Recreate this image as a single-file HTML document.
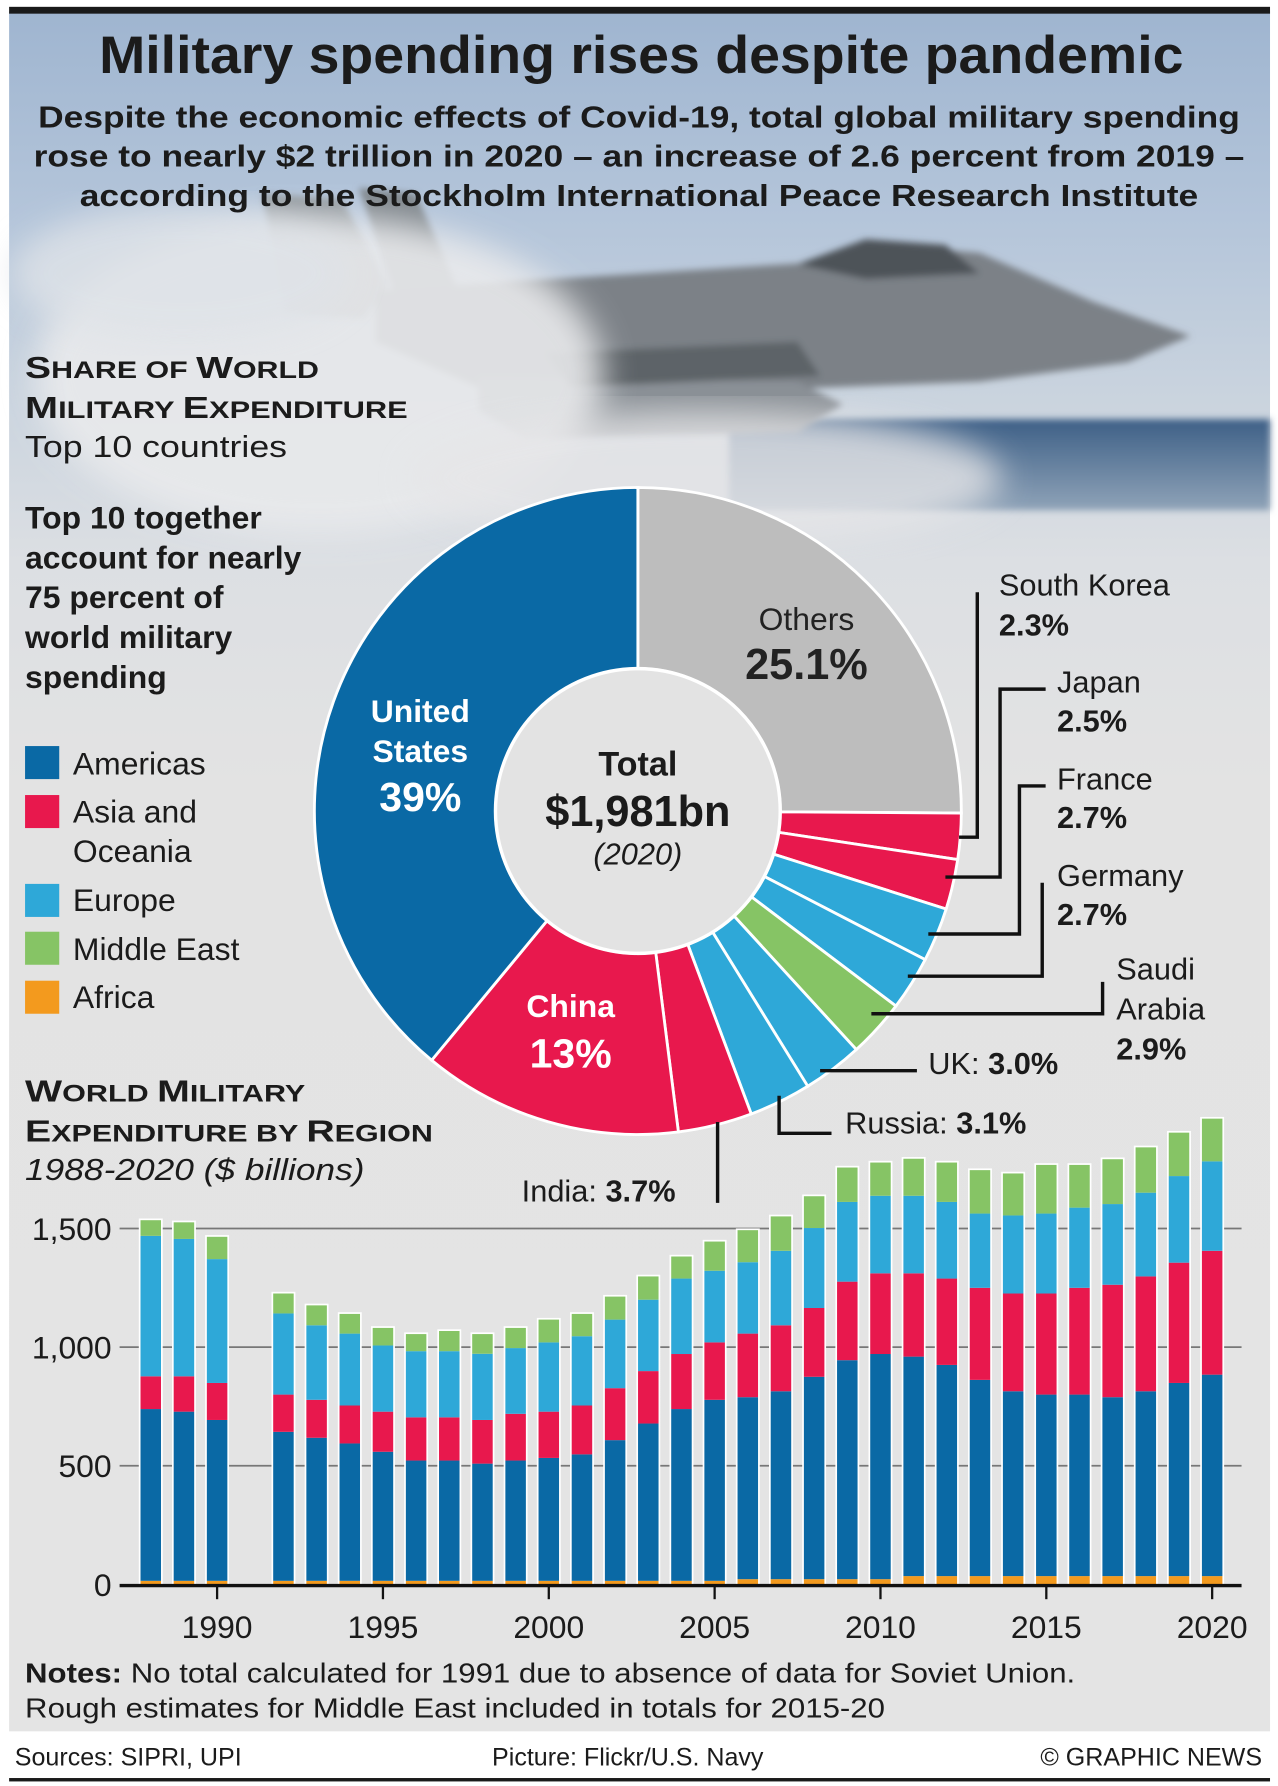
<!DOCTYPE html>
<html><head><meta charset="utf-8"><style>
html,body{margin:0;padding:0;background:#fff;}
svg{display:block;font-family:"Liberation Sans",sans-serif;}
</style></head><body>
<svg id="root" width="1278" height="1786" viewBox="0 0 1122 1568" xmlns="http://www.w3.org/2000/svg">
<defs>
<linearGradient id="bg" x1="0" y1="0" x2="0" y2="1">
<stop offset="0" stop-color="#9fb5d0"/><stop offset="0.12" stop-color="#b4c5da"/><stop offset="0.22" stop-color="#c9d3de"/><stop offset="0.32" stop-color="#dcdfe3"/><stop offset="0.45" stop-color="#e3e3e3"/><stop offset="1" stop-color="#e4e4e4"/>
</linearGradient>
<linearGradient id="sea" x1="0" y1="0" x2="0" y2="1"><stop offset="0" stop-color="#3d5f86"/><stop offset="1" stop-color="#8fa3b8"/></linearGradient>
<filter id="blur"><feGaussianBlur stdDeviation="14"/></filter>
<filter id="blur2"><feGaussianBlur stdDeviation="3"/></filter>
</defs>
<rect x="0" y="0" width="1122" height="1568" fill="#fff"/>
<rect x="8" y="10" width="1107" height="1510" fill="url(#bg)"/>
<rect x="640" y="368" width="475" height="80" fill="url(#sea)" filter="url(#blur2)"/>
<g filter="url(#blur2)">
<polygon points="230,170 300,175 340,250 320,280 250,275" fill="#8d949a"/>
<polygon points="315,165 365,170 400,250 350,270" fill="#7f868c"/>
<polygon points="330,255 720,230 780,215 860,222 960,265 1045,295 990,318 860,335 600,345 420,340 330,300" fill="#7b8187"/>
<polygon points="700,232 760,210 830,215 860,240 760,245" fill="#4d5358"/>
<polygon points="420,330 700,335 740,355 700,380 460,385 420,360" fill="#8a9096"/>
<polygon points="480,310 700,300 720,330 500,340" fill="#5d6368"/>
</g>
<ellipse cx="280" cy="330" rx="250" ry="140" fill="#e9eaec" filter="url(#blur)" opacity="0.9"/>
<ellipse cx="620" cy="420" rx="260" ry="60" fill="#e6e6e8" filter="url(#blur)" opacity="0.8"/>
<ellipse cx="160" cy="240" rx="150" ry="60" fill="#dfe3e8" filter="url(#blur)" opacity="0.8"/>
<rect x="8" y="6" width="1107" height="6" fill="#1a1a1a"/>

<text x="563" y="64" text-anchor="middle" font-size="46" font-weight="bold" fill="#1b1b1b" textLength="952" lengthAdjust="spacingAndGlyphs">Military spending rises despite pandemic</text>
<g font-size="27" font-weight="bold" fill="#1b1b1b" text-anchor="middle">
<text x="561" y="112" textLength="1055" lengthAdjust="spacingAndGlyphs">Despite the economic effects of Covid-19, total global military spending</text>
<text x="561" y="146" textLength="1063" lengthAdjust="spacingAndGlyphs">rose to nearly $2 trillion in 2020 – an increase of 2.6 percent from 2019 –</text>
<text x="561" y="181" textLength="982" lengthAdjust="spacingAndGlyphs">according to the Stockholm International Peace Research Institute</text>
</g>

<g fill="#1b1b1b" font-weight="bold">
<text x="22" y="332" font-size="27" textLength="258" lengthAdjust="spacingAndGlyphs">S<tspan font-size="21">HARE OF </tspan>W<tspan font-size="21">ORLD</tspan></text>
<text x="22" y="367" font-size="27" textLength="336" lengthAdjust="spacingAndGlyphs">M<tspan font-size="21">ILITARY </tspan>E<tspan font-size="21">XPENDITURE</tspan></text>
<text x="22" y="401" font-size="27" font-weight="normal" textLength="230" lengthAdjust="spacingAndGlyphs">Top 10 countries</text>
</g>
<g fill="#1b1b1b" font-weight="bold" font-size="28">
<text x="22" y="464">Top 10 together</text>
<text x="22" y="499">account for nearly</text>
<text x="22" y="534">75 percent of</text>
<text x="22" y="569">world military</text>
<text x="22" y="604">spending</text>
</g>
<g font-size="28" fill="#1b1b1b">
<rect x="22" y="655" width="30" height="29" fill="#0a69a5"/><text x="64" y="680">Americas</text>
<rect x="22" y="698" width="30" height="29" fill="#e8184d"/><text x="64" y="722">Asia and</text><text x="64" y="757">Oceania</text>
<rect x="22" y="776" width="30" height="29" fill="#2ea8d8"/><text x="64" y="800">Europe</text>
<rect x="22" y="818" width="30" height="29" fill="#86c465"/><text x="64" y="843">Middle East</text>
<rect x="22" y="861" width="30" height="29" fill="#f39a1e"/><text x="64" y="885">Africa</text>
</g>

<g id="donut"></g>
<g text-anchor="middle">
<text x="708" y="553" font-size="28" fill="#222">Others</text>
<text x="708" y="596" font-size="38" font-weight="bold" fill="#222">25.1%</text>
<text x="369" y="634" font-size="28" font-weight="bold" fill="#fff">United</text>
<text x="369" y="669" font-size="28" font-weight="bold" fill="#fff">States</text>
<text x="369" y="712" font-size="36" font-weight="bold" fill="#fff">39%</text>
<text x="501" y="893" font-size="28" font-weight="bold" fill="#fff">China</text>
<text x="501" y="937" font-size="36" font-weight="bold" fill="#fff">13%</text>
<text x="560" y="681" font-size="30" font-weight="bold" fill="#1b1b1b">Total</text>
<text x="560" y="725" font-size="38" font-weight="bold" fill="#1b1b1b">$1,981bn</text>
<text x="560" y="759" font-size="27" font-style="italic" fill="#1b1b1b">(2020)</text>
</g>
<g fill="none" stroke="#111" stroke-width="3">
<polyline points="842,735 858,735 858,520"/>
<polyline points="830,770 878,770 878,605 918,605"/>
<polyline points="815,820 895,820 895,690 918,690"/>
<polyline points="797,857 915,857 915,775"/>
<polyline points="765,890 968,890 968,862"/>
<polyline points="720,940 805,940"/>
<polyline points="684,962 684,995 730,995"/>
<polyline points="630,985 630,1056"/>
</g>
<g font-size="27" fill="#1b1b1b">
<text x="877" y="523">South Korea</text><text x="877" y="558" font-weight="bold">2.3%</text>
<text x="928" y="608">Japan</text><text x="928" y="642" font-weight="bold">2.5%</text>
<text x="928" y="693">France</text><text x="928" y="727" font-weight="bold">2.7%</text>
<text x="928" y="778">Germany</text><text x="928" y="812" font-weight="bold">2.7%</text>
<text x="980" y="860">Saudi</text><text x="980" y="895">Arabia</text><text x="980" y="930" font-weight="bold">2.9%</text>
<text x="815" y="943">UK: <tspan font-weight="bold">3.0%</tspan></text>
<text x="742" y="995">Russia: <tspan font-weight="bold">3.1%</tspan></text>
<text x="458" y="1055">India: <tspan font-weight="bold">3.7%</tspan></text>
</g>

<g fill="#1b1b1b" font-weight="bold">
<text x="22" y="967" font-size="27" textLength="246" lengthAdjust="spacingAndGlyphs">W<tspan font-size="21">ORLD </tspan>M<tspan font-size="21">ILITARY</tspan></text>
<text x="22" y="1002" font-size="27" textLength="358" lengthAdjust="spacingAndGlyphs">E<tspan font-size="21">XPENDITURE BY </tspan>R<tspan font-size="21">EGION</tspan></text>
<text x="22" y="1036" font-size="27" font-weight="normal" font-style="italic" textLength="298" lengthAdjust="spacingAndGlyphs">1988-2020 ($ billions)</text>
</g>
<g id="bars"></g>

<g font-size="24" fill="#1b1b1b">
<text x="22" y="1477" textLength="922" lengthAdjust="spacingAndGlyphs"><tspan font-weight="bold">Notes:</tspan> No total calculated for 1991 due to absence of data for Soviet Union.</text>
<text x="22" y="1508" textLength="755" lengthAdjust="spacingAndGlyphs">Rough estimates for Middle East included in totals for 2015-20</text>
</g>
<g font-size="22" fill="#1b1b1b">
<text x="13" y="1550">Sources: SIPRI, UPI</text>
<text x="432" y="1550">Picture: Flickr/U.S. Navy</text>
<text x="1108" y="1550" text-anchor="end">© GRAPHIC NEWS</text>
</g>
<rect x="8" y="1561" width="1107" height="3" fill="#1a1a1a"/>

<script>
const sliceNames = ["Others","South Korea","Japan","France","Germany","Saudi Arabia","UK","Russia","India","China","United States"];
const sliceShares = [25.1,2.3,2.5,2.7,2.7,2.9,3.0,3.1,3.7,13,39];
const sliceRegions = ["other","asia","asia","europe","europe","mideast","europe","europe","asia","asia","americas"];

const years = [1988,1989,1990,1991,1992,1993,1994,1995,1996,1997,1998,1999,2000,2001,2002,2003,2004,2005,2006,2007,2008,2009,2010,2011,2012,2013,2014,2015,2016,2017,2018,2019,2020];
const africa   = [15,15,15,null,15,15,15,15,15,15,15,15,15,15,15,15,15,15,22,22,22,22,22,35,35,35,35,35,35,35,35,35,35];
const americas = [724,713,678,null,628,603,579,544,507,507,494,507,518,533,593,663,724,763,767,792,853,923,949,925,890,827,779,765,765,754,779,814,849];
const asia     = [138,149,156,null,157,160,160,169,182,182,184,197,195,206,219,221,232,242,268,278,290,331,340,351,364,388,412,426,450,474,484,507,522];
const europe   = [592,579,522,null,342,314,303,279,279,279,279,277,292,292,289,301,318,302,301,314,337,336,327,327,323,313,329,337,338,340,353,365,377];
const mideast  = [66,70,94,null,84,84,83,74,72,85,83,85,96,94,97,98,93,123,135,145,134,145,140,156,166,183,177,205,180,189,191,183,180];
const yTicks = [0,500,1000,1500];
const yTickLabels = ["0","500","1,000","1,500"];
const xTicks = [1990,1995,2000,2005,2010,2015,2020];

const NS = "http://www.w3.org/2000/svg";
const colors = {americas:"#0a69a5",asia:"#e8184d",europe:"#2ea8d8",mideast:"#86c465",africa:"#f39a1e",other:"#bdbdbd"};

// donut
const cx = 560, cy = 712, R = 284, r = 125;
const donut = document.getElementById("donut");
const angleOf = p => p / 100 * 2 * Math.PI;
function pt(rad, a){ return [cx + rad*Math.sin(a), cy - rad*Math.cos(a)]; }
let acc = 0;
sliceShares.forEach((s, i) => {
  const a0 = angleOf(acc), a1 = angleOf(acc + s); acc += s;
  const large = (a1 - a0) > Math.PI ? 1 : 0;
  const p0 = pt(R,a0), p1 = pt(R,a1), q1 = pt(r,a1), q0 = pt(r,a0);
  const path = document.createElementNS(NS, "path");
  path.setAttribute("d", `M${p0[0]},${p0[1]} A${R},${R} 0 ${large} 1 ${p1[0]},${p1[1]} L${q1[0]},${q1[1]} A${r},${r} 0 ${large} 0 ${q0[0]},${q0[1]} Z`);
  path.setAttribute("fill", colors[sliceRegions[i]]);
  path.setAttribute("stroke", "#fff");
  path.setAttribute("stroke-width", "2.5");
  
  
  donut.appendChild(path);
});
const hole = document.createElementNS(NS, "circle");
hole.setAttribute("cx", cx); hole.setAttribute("cy", cy); hole.setAttribute("r", r);
hole.setAttribute("fill", "#e3e3e3"); hole.setAttribute("stroke", "#fff"); hole.setAttribute("stroke-width", "3");


donut.appendChild(hole);

// bars
const g = document.getElementById("bars");
const y0px = 1391, pxPerUnit = 0.2083;
const yScale = v => y0px - v * pxPerUnit;
const xScale = yr => 190.6 + (yr - 1990) * 29.12;
const barW = 18;
yTicks.forEach((t, i) => {
  if (t > 0) {
    const l = document.createElementNS(NS, "line");
    l.setAttribute("x1", 105); l.setAttribute("x2", 1090);
    l.setAttribute("y1", yScale(t)); l.setAttribute("y2", yScale(t));
    l.setAttribute("stroke", "#777"); l.setAttribute("stroke-width", "1.5");
    
    
    g.appendChild(l);
  }
  const tx = document.createElementNS(NS, "text");
  tx.setAttribute("x", 98); tx.setAttribute("y", yScale(t) + 10);
  tx.setAttribute("text-anchor", "end"); tx.setAttribute("font-size", "28"); tx.setAttribute("fill", "#1b1b1b");
  tx.textContent = yTickLabels[i];
  
  
  g.appendChild(tx);
});
const series = [["africa",africa],["americas",americas],["asia",asia],["europe",europe],["mideast",mideast]];
years.forEach((yr, i) => {
  if (americas[i] == null) return;
  let base = 0;
  const total = africa[i]+americas[i]+asia[i]+europe[i]+mideast[i];
  const outline = document.createElementNS(NS, "rect");
  outline.setAttribute("x", xScale(yr) - barW/2 - 1.5); outline.setAttribute("width", barW + 3);
  outline.setAttribute("y", yScale(total) - 1.5); outline.setAttribute("height", total * pxPerUnit + 1.5);
  outline.setAttribute("fill", "#fff");
  
  
  g.appendChild(outline);
  series.forEach(([key, arr]) => {
    const v = arr[i];
    const rc = document.createElementNS(NS, "rect");
    rc.setAttribute("x", xScale(yr) - barW/2); rc.setAttribute("width", barW);
    rc.setAttribute("y", yScale(base + v)); rc.setAttribute("height", v * pxPerUnit);
    rc.setAttribute("fill", colors[key]);
    
    
    g.appendChild(rc);
    base += v;
  });
});
const axis = document.createElementNS(NS, "line");
axis.setAttribute("x1", 105); axis.setAttribute("x2", 1090); axis.setAttribute("y1", y0px + 1); axis.setAttribute("y2", y0px + 1);
axis.setAttribute("stroke", "#111"); axis.setAttribute("stroke-width", "3");


g.appendChild(axis);
xTicks.forEach(t => {
  const l = document.createElementNS(NS, "line");
  l.setAttribute("x1", xScale(t)); l.setAttribute("x2", xScale(t));
  l.setAttribute("y1", y0px); l.setAttribute("y2", y0px + 13);
  l.setAttribute("stroke", "#111"); l.setAttribute("stroke-width", "2");
  
  
  g.appendChild(l);
  const tx = document.createElementNS(NS, "text");
  tx.setAttribute("x", xScale(t)); tx.setAttribute("y", 1438);
  tx.setAttribute("text-anchor", "middle"); tx.setAttribute("font-size", "28"); tx.setAttribute("fill", "#1b1b1b");
  tx.textContent = t;
  
  
  g.appendChild(tx);
});
</script>
</svg>
</body></html>
